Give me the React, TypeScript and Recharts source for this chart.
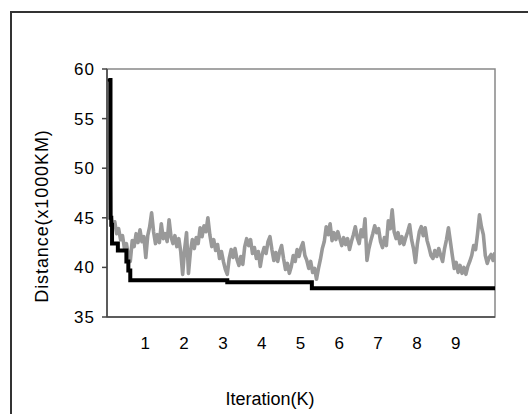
import React from 'react';
import { LineChart, Line, XAxis, YAxis, ReferenceArea } from 'recharts';

// current solution distance, sampled every 0.05K iterations (gray)
const currentDistance = [
    59, 45.2, 44.1, 44.6, 43.4, 43.9, 42.8, 43.2, 41.9, 42.4, 41.2, 40.6, 42.7, 42.1, 43.4, 42.5, 43.8, 42.6, 43.1, 41.0,
    43.2, 44.1, 45.5, 43.6, 42.4, 43.3, 42.5, 44.4, 42.9, 43.4, 42.6, 44.8, 43.1, 42.4, 43.2, 42.1, 42.9, 41.6, 39.3, 41.8,
    43.5, 39.4, 41.6, 42.8, 41.9, 43.0, 42.4, 44.0, 43.1, 44.2, 43.6, 45.0, 43.3, 42.1, 42.8, 41.7, 42.3, 40.9, 41.6, 40.6,
    39.8, 39.3, 40.9, 41.8, 41.0, 41.9, 40.8, 40.2, 41.1, 40.3, 42.1, 42.9, 42.2, 42.8, 41.4, 42.0, 40.9, 41.6, 40.1, 41.3,
    42.0, 41.4, 42.6, 43.1, 41.8, 40.7, 41.5, 40.6, 41.6, 42.2, 40.9, 39.8, 40.4, 39.4, 40.1, 41.2, 40.6, 41.8, 41.1, 42.0,
    42.5, 41.2, 40.7, 39.9, 40.6, 39.5, 39.9, 38.8, 39.9, 40.8, 41.9, 42.6, 44.1, 43.3, 44.4, 42.7, 43.5, 42.8, 43.6, 42.9,
    42.2, 43.0, 42.3, 42.9, 41.8, 42.6, 43.3, 44.1, 43.0, 42.4, 43.8, 43.1, 44.9, 40.7, 41.9, 42.7, 43.4, 44.2, 43.5, 43.9,
    42.6, 42.0, 43.0, 42.2, 44.7, 43.9, 45.8, 43.6, 42.9, 43.5, 42.4, 43.1, 42.3, 43.0, 43.6, 44.3, 42.8, 41.9, 40.5, 42.4,
    43.6, 44.1, 43.2, 44.0, 42.7, 42.0, 41.2, 40.9, 41.7, 41.1, 41.9, 41.2, 40.6, 41.9, 42.8, 44.0, 42.6, 41.2, 39.9, 40.5,
    39.5, 40.2, 39.4, 40.0, 39.3, 40.1, 40.6, 41.2, 42.2, 41.8, 43.4, 45.3, 44.1, 43.3, 41.2, 40.4, 41.0, 41.3, 40.7, 41.5,
];
const SAMPLE_STEP = 0.05;

// best-so-far distance (black step line)
const bestIter = [0.06, 0.09, 0.11, 0.13, 0.28, 0.5, 0.55, 0.6, 3.1, 5.28, 10];
const bestDistance = [58.9, 45, 44.3, 42.4, 41.7, 40.6, 39.7, 38.7, 38.5, 37.9, 37.9];

const xTicks = [1, 2, 3, 4, 5, 6, 7, 8, 9];
const yTicks = [35, 40, 45, 50, 55, 60];

const currentData = currentDistance.map((y, i) => ({ x: +((i + 1) * SAMPLE_STEP).toFixed(2), y }));
const bestData = bestIter.map((x, i) => ({ x, y: bestDistance[i] }));

const font = '"Liberation Sans", Arial, sans-serif';

export default function App() {
    return (
        <div style={{ position: 'absolute', left: 0, top: 0, width: 528, height: 414, background: '#fff', overflow: 'hidden', fontFamily: font }}>
            {/* outer frame */}
            <div
                style={{
                    position: 'absolute',
                    left: 10,
                    top: 11,
                    width: 540,
                    height: 420,
                    borderTop: '2px solid #333',
                    borderLeft: '2px solid #333',
                    boxSizing: 'border-box',
                }}
            />
            <div style={{ position: 'absolute', left: 0, top: 0 }}>
                <LineChart width={528} height={414} margin={{ top: 69, right: 33, left: 67, bottom: 67 }}>
                    <ReferenceArea x1={0} x2={10} y1={35} y2={60} fill="none" stroke="#888" strokeWidth={1.5} ifOverflow="extendDomain" />
                    <XAxis
                        dataKey="x"
                        type="number"
                        domain={[0, 10]}
                        ticks={xTicks}
                        allowDataOverflow
                        height={30}
                        tickLine={false}
                        tickSize={0}
                        tickMargin={20}
                        axisLine={{ stroke: '#444', strokeWidth: 1.5 }}
                        tick={{ fill: '#000', fontSize: 17, fontFamily: font, letterSpacing: 1 }}
                    />
                    <YAxis
                        type="number"
                        domain={[35, 60]}
                        ticks={yTicks}
                        allowDataOverflow
                        width={40}
                        tickSize={5}
                        tickMargin={7}
                        axisLine={{ stroke: '#444', strokeWidth: 1.5 }}
                        tickLine={{ stroke: '#444', strokeWidth: 1.5 }}
                        tick={{ fill: '#000', fontSize: 17, fontFamily: font, letterSpacing: 1 }}
                    />
                    <Line
                        data={currentData}
                        dataKey="y"
                        type="linear"
                        stroke="#999"
                        strokeWidth={3.6}
                        strokeLinejoin="round"
                        dot={false}
                        isAnimationActive={false}
                    />
                    <Line
                        data={bestData}
                        dataKey="y"
                        type="stepAfter"
                        stroke="#000"
                        strokeWidth={4}
                        strokeLinecap="round"
                        dot={false}
                        isAnimationActive={false}
                    />
                </LineChart>
            </div>
            {/* axis titles */}
            <div
                style={{
                    position: 'absolute',
                    left: 270,
                    top: 399,
                    transform: 'translate(-50%, -50%)',
                    fontSize: 18,
                    whiteSpace: 'nowrap',
                    color: '#000',
                }}
            >
                Iteration(K)
            </div>
            <div
                style={{
                    position: 'absolute',
                    left: 42,
                    top: 216,
                    transform: 'translate(-50%, -50%) rotate(-90deg)',
                    fontSize: 18,
                    letterSpacing: 0.9,
                    whiteSpace: 'nowrap',
                    color: '#000',
                }}
            >
                Distance(x1000KM)
            </div>
        </div>
    );
}
